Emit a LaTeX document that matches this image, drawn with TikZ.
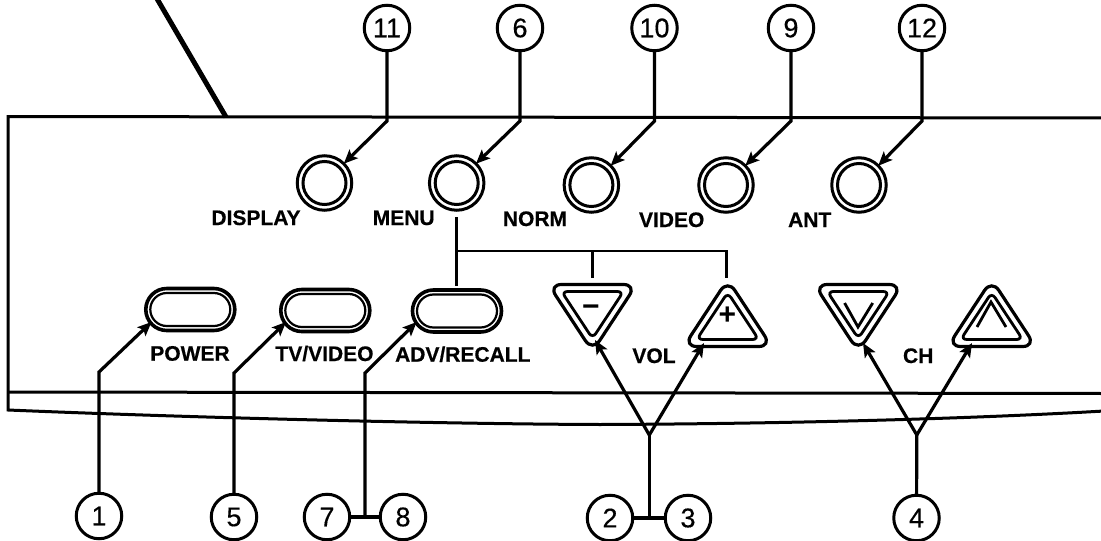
\documentclass[tikz,border=0pt]{standalone}
\usepackage{fontspec}
\setmainfont{Liberation Sans}
\usetikzlibrary{arrows.meta}
\newcommand{\mytri}[3]{%
  \begin{scope}[shift={(#1,#2)},yscale=#3]
    \draw[triout] (-44,-33) -- (44,-33) -- (0,34) -- cycle;
    \draw[triin] (-31,-26) -- (31,-26) -- (0,21) -- cycle;
  \end{scope}}
\tikzset{
  numc/.style={circle,draw,line width=3pt,inner sep=0pt,outer sep=0pt,minimum size=45.5pt,font=\fontsize{27}{27}\selectfont\addfontfeature{FakeBold=0.4}},
  ringout/.style={circle,draw,line width=3pt,inner sep=0pt,outer sep=0pt,minimum size=54.5pt},
  ringin/.style={circle,draw,line width=3pt,inner sep=0pt,outer sep=0pt,minimum size=43pt},
  pillout/.style={draw,line width=3.6pt,inner sep=0pt,outer sep=0pt,minimum width=89pt,minimum height=42pt,rounded corners=21pt},
  pillin/.style={draw,line width=2.2pt,inner sep=0pt,outer sep=0pt,minimum width=80pt,minimum height=33pt,rounded corners=16.5pt},
  triout/.style={line width=3.2pt,rounded corners=13pt},
  triin/.style={line width=2.8pt,rounded corners=6pt},
  lbl/.style={font=\fontsize{21}{21}\selectfont\bfseries\addfontfeature{FakeBold=0.5},inner sep=0pt,anchor=base},
  sym/.style={font=\fontsize{30}{30}\selectfont\bfseries,inner sep=0pt},
  frame/.style={line width=3pt},
  lead/.style={line width=3.2pt},
  arr/.style={line width=3.2pt,-{Stealth[length=14pt,width=12pt,inset=3pt]}},
  glyph/.style={line width=2.8pt}
}
\begin{document}
\begin{tikzpicture}[x=1pt,y=-1pt]
\useasboundingbox (0,0) rectangle (1101,541);
\fill[white] (0,0) rectangle (1101,541);
% cabinet
\draw[line width=5pt] (156,-3) -- (226,117);
\draw[frame] (1104,118) -- (8,116.5) -- (8,410)
  .. controls (200,418) and (450,424) .. (600,424.5)
  .. controls (750,424) and (950,420) .. (1104,411);
\draw[frame] (8,392) -- (1104,393.5);
% numbered circles
\node[numc] (n11) at (387,28) {11};
\node[numc] (n6) at (520,28) {6};
\node[numc] (n10) at (654.5,28) {10};
\node[numc] (n9) at (791,28) {9};
\node[numc] (n12) at (922,28) {12};
\node[numc] (n1) at (99,516) {1};
\node[numc] (n5) at (234,517) {5};
\node[numc] (n7) at (327,517) {7};
\node[numc] (n8) at (403,517) {8};
\node[numc] (n2) at (610,518) {2};
\node[numc] (n3) at (688,518) {3};
\node[numc] (n4) at (916.5,518) {4};
% round buttons
\foreach \nm/\cx/\cy in {bd/324.5/183,bm/456.7/183,bn/591.4/185,bv/726/185,ba/859/185}{
  \node[ringout] (\nm) at (\cx,\cy) {};
  \node[ringin] (\nm i) at (\cx,\cy) {};
}
% pills
\foreach \nm/\cx/\cy in {pp/190.3/309.5,pt/325.3/310.5,pa/457/311}{
  \node[pillout] (\nm) at (\cx,\cy) {};
  \node[pillin] (\nm i) at (\cx,\cy) {};
}
% triangles
\mytri{592.5}{317.5}{1}
\mytri{727.7}{313.5}{-1}
\mytri{858.3}{317.5}{1}
\mytri{991.7}{313.5}{-1}
\node[sym] (minus) at (591,311) {−};
\node[sym] (plus) at (727.5,316) {+};
\draw[glyph] (844.6,303) -- (858,327) -- (872.7,303);
\draw[glyph] (977,327) -- (991,302) -- (1006,327);
% labels
\node[lbl] at (256,225) {DISPLAY};
\node[lbl] at (403.7,225) {MENU};
\node[lbl] at (535,226) {NORM};
\node[lbl] at (671.7,227) {VIDEO};
\node[lbl] at (809.7,227) {ANT};
\node[lbl] at (190,360.7) {POWER};
\node[lbl] at (324.5,361) {TV/VIDEO};
\node[lbl] at (462.8,361.7) {ADV/RECALL};
\node[lbl] at (654,363) {VOL};
\node[lbl] at (918.2,363) {CH};
% coordinates
\coordinate (k11) at (387,121);
\coordinate (k6) at (520,121);
\coordinate (k10) at (654.5,121);
\coordinate (k9) at (791,121);
\coordinate (k12) at (922,121);
\coordinate (k1) at (99,372);
\coordinate (k5) at (234,373);
\coordinate (k7) at (365,373);
\coordinate (j78) at (365,517);
\coordinate (t1) at (151.5,322);
\coordinate (t5) at (286,322);
\coordinate (t7) at (416.7,322);
\coordinate (jv) at (649.3,435);
\coordinate (j23) at (649.3,518);
\coordinate (jc) at (916.8,435);
\coordinate (tvm) at (595,340);
\coordinate (tvp) at (704,343);
\coordinate (tcd) at (863,343);
\coordinate (tcu) at (972,343);
\coordinate (mt) at (456.7,217);
\coordinate (mb) at (456.7,286);
\coordinate (m1) at (456.7,251);
\coordinate (m2) at (592.8,251);
\coordinate (m3) at (726.4,251);
\coordinate (m2e) at (592.8,278);
\coordinate (m3e) at (726.4,278);
% top leaders
\draw[arr] (n11) -- (k11) -- (bd.45);
\draw[arr] (n6) -- (k6) -- (bm.45);
\draw[arr] (n10) -- (k10) -- (bn.45);
\draw[arr] (n9) -- (k9) -- (bv.45);
\draw[arr] (n12) -- (k12) -- (ba.45);
% bottom leaders
\draw[arr] (n1) -- (k1) -- (t1);
\draw[arr] (n5) -- (k5) -- (t5);
\draw[arr] (j78) -- (k7) -- (t7);
\draw[lead] (n7) -- (n8);
\draw[lead] (n2) -- (n3);
\draw[lead] (j23) -- (jv);
\draw[arr] (jv) -- (tvm);
\draw[arr] (jv) -- (tvp);
\draw[lead] (n4) -- (jc);
\draw[arr] (jc) -- (tcd);
\draw[arr] (jc) -- (tcu);
% menu bracket
\draw[lead,line width=2.8pt] (mt) -- (mb);
\draw[lead,line width=2.8pt] (m1) -- (m3) -- (m3e);
\draw[lead,line width=2.8pt] (m2) -- (m2e);
\end{tikzpicture}
\end{document}
